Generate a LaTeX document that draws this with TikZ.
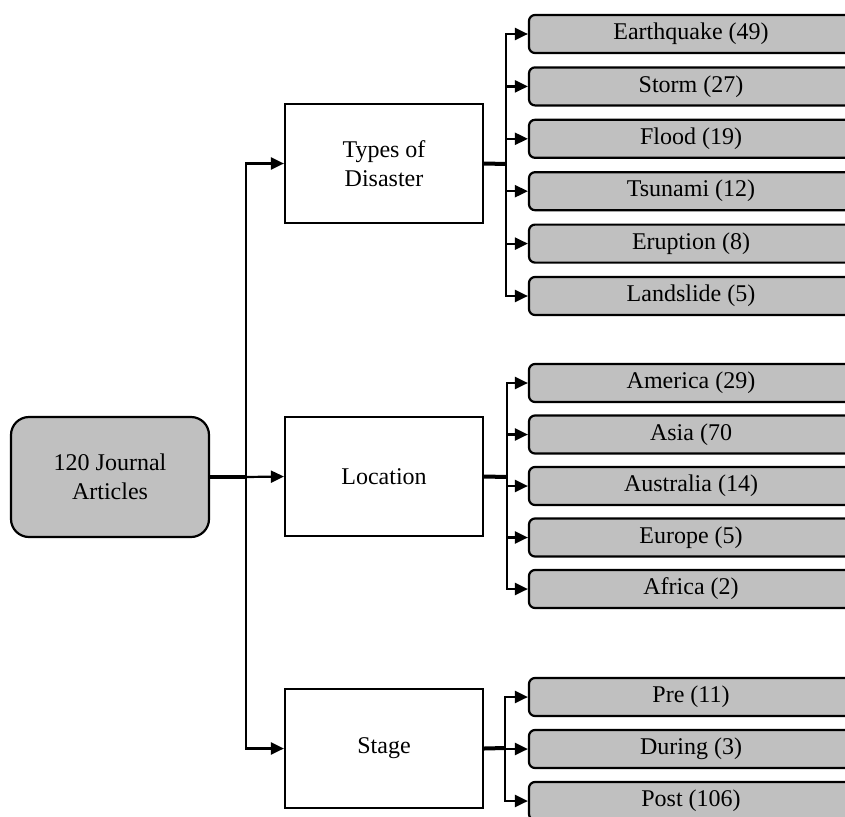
\documentclass[tikz,border=0pt]{standalone}
\usepackage{fontspec}
\setmainfont{Liberation Serif}
\usetikzlibrary{arrows.meta}
\definecolor{boxgray}{HTML}{C0C0C0}
\tikzset{
  every node/.style={font=\fontsize{24}{29}\selectfont},
  rootbox/.style={draw, line width=2.2pt, fill=boxgray, rounded corners=18pt, minimum width=198pt, minimum height=120pt, align=center, inner sep=0pt},
  catbox/.style={draw, line width=2.2pt, fill=white, minimum width=198pt, minimum height=119pt, align=center, inner sep=0pt},
  leafbox/.style={draw, line width=2.2pt, fill=boxgray, rounded corners=6pt, minimum width=324pt, minimum height=38pt, inner sep=0pt},
  arr/.style={line width=2.2pt, -{Triangle[length=13pt,width=12pt]}},
  thickline/.style={line width=4pt},
}
\begin{document}
\begin{tikzpicture}[x=1pt,y=-1pt]
\useasboundingbox (0,0) rectangle (845,816);
\clip (0,0) rectangle (845,816);
\fill[white] (0,0) rectangle (845,816);

\node[rootbox] (root) at (110,477) {120 Journal\\Articles};
\node[catbox] (types) at (384,163.5) {Types of\\Disaster};
\node[catbox] (loc) at (384,476.5) {Location};
\node[catbox] (stage) at (384,748.5) {Stage};

% leaves: types
\node[leafbox] (t1) at (691,34) {Earthquake (49)};
\node[leafbox] (t2) at (691,86.4) {Storm (27)};
\node[leafbox] (t3) at (691,138.8) {Flood (19)};
\node[leafbox] (t4) at (691,191.2) {Tsunami (12)};
\node[leafbox] (t5) at (691,243.6) {Eruption (8)};
\node[leafbox] (t6) at (691,296) {Landslide (5)};
% leaves: location
\node[leafbox] (l1) at (691,383) {America (29)};
\node[leafbox] (l2) at (691,434.5) {Asia (70};
\node[leafbox] (l3) at (691,486) {Australia (14)};
\node[leafbox] (l4) at (691,537.5) {Europe (5)};
\node[leafbox] (l5) at (691,589) {Africa (2)};
% leaves: stage
\node[leafbox] (s1) at (691,697) {Pre (11)};
\node[leafbox] (s2) at (691,749) {During (3)};
\node[leafbox] (s3) at (691,801) {Post (106)};

% trunk from root
\coordinate (tr) at (246,477);
\draw[thickline] (root.east) -- (tr);
\draw[arr] (tr) -- (loc.west);
\draw[arr] (tr) |- (types.west);
\draw[arr] (tr) |- (stage.west);

% types branch
\coordinate (jT) at (506,164);
\draw[thickline] (types.east) -- (jT);
\foreach \n in {t1,t2,t3,t4,t5,t6} \draw[arr] (jT) |- (\n.west);

% location branch
\coordinate (jL) at (507,477);
\draw[thickline] (loc.east) -- (jL);
\foreach \n in {l1,l2,l3,l4,l5} \draw[arr] (jL) |- (\n.west);

% stage branch
\coordinate (jS) at (505,748);
\draw[thickline] (stage.east) -- (jS);
\foreach \n in {s1,s2,s3} \draw[arr] (jS) |- (\n.west);
\end{tikzpicture}
\end{document}
